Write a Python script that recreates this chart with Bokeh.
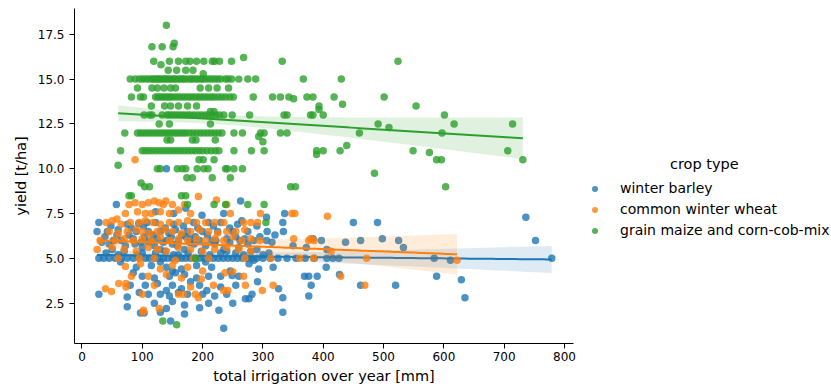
import numpy as np
from bokeh.plotting import figure
from bokeh.models import Range1d, FixedTicker, Legend, LegendItem
from bokeh.embed import file_html
from bokeh.resources import INLINE

# ---------------- data (irrigation mm, yield t/ha) ----------------
barley_points = [
    (140, 10.0),
    (57, 8.0), (263, 8.2), (172, 7.8),
    (152, 7.5), (199, 7.4), (336, 7.5), (306, 7.3), (235, 7.5), (122, 7.6), (736, 7.3),
    (28, 7.0), (75, 6.9), (94, 6.95), (108, 7.0), (122, 7.0), (152, 6.9), (185, 7.0), (210, 7.0), (230, 7.0), (265, 7.1), (333, 7.0), (450, 7.0), (490, 7.0),
    (48, 6.8), (82, 6.7), (102, 6.8), (138, 6.7), (168, 6.8), (192, 6.7), (218, 6.8), (245, 6.7), (258, 6.9), (290, 6.8),
    (25, 6.5), (42, 6.5), (60, 6.6), (90, 6.5), (110, 6.5), (130, 6.5), (155, 6.6), (175, 6.5), (200, 6.5), (225, 6.5), (250, 6.5), (275, 6.5), (307, 6.5), (334, 6.5),
    (33, 5.9), (58, 6.3), (72, 5.7), (88, 5.8), (104, 6.2), (120, 5.7), (144, 6.4), (158, 5.7), (172, 6.2), (186, 5.8),
    (38, 6.2), (52, 6.0), (78, 6.3), (98, 5.9), (118, 6.3), (125, 6.1), (135, 5.9), (148, 6.2), (165, 6.3), (178, 5.9), (188, 6.2), (208, 6.3), (222, 6.0), (245, 5.9), (255, 6.2), (270, 6.1), (295, 6.2), (315, 5.9), (320, 6.3), (110, 5.9),
    (65, 6.0), (85, 6.1), (115, 6.0), (140, 6.0), (160, 6.0), (180, 6.1), (195, 6.0), (215, 6.0), (240, 6.1), (262, 6.0), (285, 6.0), (306, 6.0), (383, 6.1), (397, 6.0), (462, 6.0), (498, 6.1), (525, 6.0), (752, 6.0),
    (45, 5.8), (150, 5.8), (220, 5.8), (275, 5.8), (350, 5.7), (437, 5.9), (50, 5.5), (100, 5.6), (130, 5.5), (170, 5.5), (205, 5.7), (235, 5.5), (260, 5.6), (290, 5.5), (372, 5.6), (406, 5.5), (533, 5.6),
    (40, 5.3), (70, 5.4), (92, 5.2), (122, 5.3), (138, 5.4), (152, 5.2), (176, 5.3), (198, 5.4), (212, 5.2), (240, 5.4), (255, 5.3), (268, 5.2), (280, 5.4), (310, 5.3), (60, 5.2),
    (100, 5.3), (160, 5.2), (230, 5.3), (300, 5.2),
    (28, 5.0), (36, 5.0), (45, 5.0), (55, 5.0), (65, 5.0), (75, 5.0), (85, 5.0), (95, 5.0), (105, 5.0), (112, 5.0), (120, 5.0), (128, 5.0),
    (135, 5.0), (142, 5.0), (150, 5.0), (158, 5.0), (165, 5.0), (172, 5.0), (180, 5.0), (188, 5.0), (195, 5.0), (203, 5.0), (210, 5.0), (218, 5.0),
    (226, 5.0), (234, 5.0), (242, 5.0), (250, 5.0), (258, 5.0), (266, 5.0), (274, 5.0), (282, 5.0), (290, 5.0), (300, 5.0), (312, 5.0), (325, 5.0),
    (340, 5.0), (355, 5.0), (370, 5.0), (385, 5.0), (406, 5.0), (416, 5.0), (426, 5.0), (584, 5.0), (779, 5.0), (611, 4.9),
    (64, 4.8), (130, 4.8), (205, 4.8), (285, 4.9), (277, 4.7), (90, 4.5), (115, 4.6), (140, 4.5), (190, 4.6), (215, 4.5), (317, 4.5), (405, 4.5), (165, 4.4), (293, 4.4), (246, 4.3), (150, 4.3),
    (85, 4.2), (155, 4.2), (170, 4.1), (427, 4.1), (249, 4.05), (100, 4.0), (145, 4.0), (210, 4.0), (230, 4.0), (260, 4.0), (369, 4.0), (376, 4.0), (390, 4.0), (588, 4.0), (120, 3.9), (190, 3.9), (629, 3.8),
    (180, 3.7), (291, 3.7), (125, 3.6), (80, 3.5), (105, 3.5), (150, 3.5), (195, 3.5), (255, 3.5), (380, 3.5), (462, 3.5), (520, 3.5), (230, 3.4), (165, 3.3), (326, 3.3), (140, 3.2), (207, 3.2),
    (95, 3.1), (160, 3.1), (28, 3.0), (110, 3.0), (130, 3.0), (175, 3.0), (200, 3.0), (240, 3.0), (282, 3.0), (145, 2.9), (220, 2.9), (376, 2.9), (75, 2.85), (333, 2.8), (635, 2.8), (271, 2.75), (277, 2.75),
    (150, 2.6), (120, 2.5), (210, 2.5), (250, 2.5), (170, 2.4), (75, 2.3), (195, 2.25), (140, 2.2), (227, 2.1),
    (130, 2.0), (333, 2.0), (97, 1.95), (103, 1.95), (170, 1.9), (147, 1.5), (235, 1.1),
]

wheat_points = [
    (88, 10.5),
    (193, 8.45), (223, 8.25), (120, 8.2), (139, 8.2), (88, 8.1), (110, 8.1), (128, 8.1), (78, 8.0), (100, 8.0), (135, 8.0), (150, 8.0), (170, 8.0), (240, 8.0),
    (160, 7.7), (92, 7.6), (130, 7.6), (72, 7.5), (105, 7.5), (115, 7.5), (145, 7.5), (180, 7.5), (246, 7.5), (296, 7.5), (348, 7.5), (353, 7.5), (407, 7.35),
    (58, 7.2), (50, 7.1), (105, 7.1), (175, 7.1), (40, 7.0), (80, 7.0), (95, 7.0), (118, 7.0), (145, 7.0), (160, 7.0), (190, 7.0), (205, 7.0), (220, 7.0), (235, 7.0), (268, 7.0), (280, 7.0), (291, 7.0), (65, 6.9), (130, 6.9),
    (90, 6.6), (138, 6.6), (195, 6.6), (270, 6.6), (45, 6.5), (75, 6.5), (100, 6.5), (125, 6.5), (150, 6.5), (180, 6.5), (210, 6.5), (240, 6.5), (255, 6.5), (60, 6.4), (112, 6.4), (165, 6.4), (225, 6.4),
    (130, 6.2), (250, 6.2), (70, 6.1), (100, 6.1), (160, 6.1), (190, 6.1), (220, 6.1), (280, 6.1), (351, 6.1), (379, 6.1), (30, 6.0), (55, 6.0), (85, 6.0), (115, 6.0), (145, 6.0), (175, 6.0), (205, 6.0), (235, 6.0), (265, 6.0), (295, 6.0), (376, 6.0), (385, 6.0),
    (50, 5.6), (110, 5.6), (160, 5.6), (240, 5.6), (25, 5.5), (70, 5.5), (125, 5.5), (180, 5.5), (220, 5.5), (260, 5.5), (90, 5.4), (140, 5.4), (200, 5.4), (280, 5.4), (413, 5.4),
    (60, 5.0), (95, 5.0), (120, 5.0), (185, 5.0), (210, 5.0), (270, 5.0), (313, 5.0), (361, 5.0), (384, 5.0), (472, 5.0), (155, 4.9), (622, 4.9),
    (97, 4.7), (150, 4.6), (72, 4.55), (175, 4.5), (130, 4.4), (200, 4.3), (250, 4.25), (237, 4.2),
    (140, 4.1), (82, 4.0), (110, 4.0), (268, 4.0), (429, 4.0), (165, 3.9), (198, 3.85),
    (61, 3.6), (73, 3.6), (120, 3.5), (218, 3.5), (271, 3.5), (317, 3.5), (469, 3.5), (73, 3.4), (180, 3.4), (39, 3.3), (299, 3.2), (235, 3.2), (242, 3.2), (49, 3.15),
    (100, 3.0), (160, 3.0), (168, 3.0), (188, 3.0), (193, 2.8), (128, 2.2), (102, 2.1), (101, 2.0),
]

maize_points = [
    (140, 18.0),
    (153, 17.0), (116, 16.8), (133, 16.8), (151, 16.8),
    (268, 16.2), (119, 16.0), (145, 16.0), (160, 16.0), (172, 16.0), (179, 16.0), (190, 16.0), (202, 16.0), (216, 16.0), (220, 16.0), (228, 16.0), (248, 16.0), (332, 16.0), (524, 16.0),
    (131, 15.8), (143, 15.5), (157, 15.5), (172, 15.5), (184, 15.5), (201, 15.3),
    (80, 15.0), (88, 15.0), (95, 15.0), (100, 15.0), (105, 15.0), (110, 15.0), (115, 15.0), (118, 15.0), (122, 15.0), (125, 15.0), (128, 15.0),
    (131, 15.0), (135, 15.0), (138, 15.0), (141, 15.0), (145, 15.0), (148, 15.0), (152, 15.0), (155, 15.0), (160, 15.0), (163, 15.0), (167, 15.0),
    (170, 15.0), (175, 15.0), (180, 15.0), (183, 15.0), (188, 15.0), (192, 15.0), (197, 15.0), (200, 15.0), (205, 15.0), (210, 15.0), (215, 15.0),
    (220, 15.0), (225, 15.0), (230, 15.0), (238, 15.0), (242, 15.0), (248, 15.0), (260, 15.0), (275, 15.0), (288, 15.0), (367, 15.0), (430, 15.0),
    (92, 14.5), (116, 14.5), (125, 14.5), (136, 14.5), (147, 14.5), (155, 14.5), (196, 14.5), (210, 14.5), (224, 14.5), (243, 14.5),
    (82, 14.0), (97, 14.0), (102, 14.0), (122, 14.0), (126, 14.0), (130, 14.0), (134, 14.0), (138, 14.0), (142, 14.0), (146, 14.0),
    (150, 14.0), (155, 14.0), (160, 14.0), (165, 14.0), (170, 14.0), (175, 14.0), (180, 14.0), (185, 14.0), (190, 14.0), (195, 14.0),
    (200, 14.0), (205, 14.0), (210, 14.0), (215, 14.0), (220, 14.0), (226, 14.0), (232, 14.0), (238, 14.0), (245, 14.0), (251, 14.0),
    (284, 14.0), (316, 14.0), (329, 14.0), (343, 14.0), (373, 14.0), (383, 14.0), (418, 14.0), (501, 14.0), (351, 13.9),
    (115, 13.5), (137, 13.5), (147, 13.5), (160, 13.5), (175, 13.5), (190, 13.5), (393, 13.5), (554, 13.5), (213, 13.2), (219, 13.2), (432, 13.6), (393, 13.3),
    (103, 13.0), (112, 13.0), (116, 13.0), (133, 13.0), (141, 13.0), (145, 13.0), (150, 13.0), (155, 13.0), (160, 13.0), (165, 13.0),
    (170, 13.0), (175, 13.0), (180, 13.0), (186, 13.0), (192, 13.0), (198, 13.0), (204, 13.0), (210, 13.0), (216, 13.0), (222, 13.0),
    (228, 13.0), (235, 13.0), (249, 13.0), (278, 13.0), (335, 13.0), (340, 13.0), (379, 13.0), (383, 13.0), (400, 13.0), (601, 13.0),
    (128, 12.5), (145, 12.5), (213, 12.5), (491, 12.5), (617, 12.5), (714, 12.5), (509, 12.3),
    (71, 12.0), (92, 12.0), (97, 12.0), (102, 12.0), (107, 12.0), (112, 12.0), (117, 12.0), (122, 12.0), (127, 12.0), (132, 12.0),
    (137, 12.0), (142, 12.0), (147, 12.0), (152, 12.0), (157, 12.0), (162, 12.0), (167, 12.0), (172, 12.0), (178, 12.0), (184, 12.0),
    (190, 12.0), (196, 12.0), (202, 12.0), (208, 12.0), (214, 12.0), (220, 12.0), (226, 12.0), (232, 12.0), (252, 12.0), (266, 12.0),
    (296, 12.0), (302, 12.0), (329, 12.0), (340, 12.0), (460, 12.0), (597, 12.0), (293, 11.8), (300, 11.5),
    (141, 11.6), (147, 11.6), (183, 11.6), (189, 11.6), (221, 11.6),
    (64, 11.0), (100, 11.0), (105, 11.0), (110, 11.0), (116, 11.0), (122, 11.0), (128, 11.0), (134, 11.0), (140, 11.0), (146, 11.0),
    (152, 11.0), (158, 11.0), (164, 11.0), (170, 11.0), (176, 11.0), (182, 11.0), (188, 11.0), (194, 11.0), (200, 11.0), (207, 11.0),
    (214, 11.0), (221, 11.0), (227, 11.0), (252, 11.0), (281, 11.0), (302, 11.0), (389, 11.0), (400, 11.0), (428, 11.0), (549, 11.0),
    (706, 11.0), (389, 10.8), (439, 11.3),
    (194, 10.5), (201, 10.5), (219, 10.5), (588, 10.5), (596, 10.5), (731, 10.5), (576, 10.9),
    (60, 10.2),
    (125, 10.0), (130, 10.0), (158, 10.0), (166, 10.0), (172, 10.0), (191, 10.0), (202, 10.0), (209, 10.0), (238, 10.0), (241, 10.0), (252, 10.0), (266, 10.0),
    (174, 9.5), (183, 9.5), (216, 9.5), (246, 9.5), (485, 9.75),
    (98, 9.2), (104, 9.0), (112, 9.0), (346, 9.0), (354, 9.0), (603, 9.0),
    (78, 8.5), (82, 8.5), (165, 8.5), (172, 8.5),
    (175, 8.0), (219, 8.0), (238, 8.0), (275, 8.0), (302, 8.0),
    (305, 7.0), (188, 5.0), (134, 1.5), (157, 1.3),
]

crop_labels = ["winter barley", "common winter wheat", "grain maize and corn-cob-mix"]
crop_colors = ["#1f77b4", "#ff7f0e", "#2ca02c"]
legend_title = "crop type"

x_ticks = [0, 100, 200, 300, 400, 500, 600, 700, 800]
y_ticks = [2.5, 5.0, 7.5, 10.0, 12.5, 15.0, 17.5]
y_tick_labels = ["2.5", "5.0", "7.5", "10.0", "12.5", "15.0", "17.5"]

FONT = "DejaVu Sans"


def linear_fit(points):
    x = np.array([p[0] for p in points], dtype=float)
    y = np.array([p[1] for p in points], dtype=float)
    n = len(x)
    b, a = np.polyfit(x, y, 1)
    grid = np.linspace(x.min(), x.max(), 100)
    yhat = a + b * grid
    resid = y - (a + b * x)
    s = np.sqrt(np.sum(resid ** 2) / (n - 2))
    sxx = np.sum((x - x.mean()) ** 2)
    se = s * np.sqrt(1.0 / n + (grid - x.mean()) ** 2 / sxx)
    return x, y, grid, yhat, yhat - 1.97 * se, yhat + 1.97 * se


p = figure(
    frame_width=499, frame_height=335,
    x_range=Range1d(-12.4, 815), y_range=Range1d(0.25, 18.94),
    output_backend="svg", toolbar_location=None,
    min_border_left=74, min_border_right=258, min_border_top=8, min_border_bottom=44,
)
p.xgrid.visible = False
p.ygrid.visible = False
p.outline_line_color = None
p.background_fill_color = "white"

items = []
for pts, lab, col in zip([barley_points, wheat_points, maize_points], crop_labels, crop_colors):
    x, y, grid, yhat, lo, hi = linear_fit(pts)
    r = p.scatter(x, y, size=7.5, fill_color=col, line_color=col, line_width=0, fill_alpha=0.8, line_alpha=0.8)
    p.varea(x=grid, y1=lo, y2=hi, fill_color=col, fill_alpha=0.15)
    p.line(grid, yhat, line_color=col, line_width=2)
    items.append(LegendItem(label=lab, renderers=[r]))

for ax in (p.xaxis[0], p.yaxis[0]):
    ax.axis_line_color = "black"
    ax.axis_line_width = 1
    ax.major_tick_line_color = "black"
    ax.major_tick_in = 0
    ax.major_tick_out = 5
    ax.minor_tick_line_color = None
    ax.major_label_text_font = FONT
    ax.major_label_text_font_size = "12px"
    ax.major_label_text_color = "black"
    ax.axis_label_text_font = FONT
    ax.axis_label_text_font_size = "14.5px"
    ax.axis_label_text_font_style = "normal"
    ax.axis_label_text_color = "black"

p.xaxis.ticker = FixedTicker(ticks=x_ticks)
p.yaxis.ticker = FixedTicker(ticks=y_ticks)
p.yaxis.major_label_overrides = {t: s for t, s in zip(y_ticks, y_tick_labels)}
p.xaxis.axis_label = "total irrigation over year [mm]"
p.yaxis.axis_label = "yield [t/ha]"
p.xaxis.major_label_standoff = 3
p.yaxis.major_label_standoff = 5
p.xaxis.axis_label_standoff = 4
p.yaxis.axis_label_standoff = 6

# the title is centred over the entries (as in the original) by leading no-break spaces
legend = Legend(
    items=items, location=(14, 105), title="\u00a0" * 18 + legend_title,
    title_text_font=FONT, title_text_font_size="14.5px", title_text_font_style="normal",
    title_text_color="black", title_standoff=8,
    label_text_font=FONT, label_text_font_size="14px", label_text_color="black",
    glyph_width=15, glyph_height=15, label_height=15, label_standoff=18, spacing=5,
    padding=5, margin=0,
    border_line_color=None, background_fill_alpha=0,
)
p.add_layout(legend, "right")

open("out.html", "w").write(file_html(p, INLINE))
